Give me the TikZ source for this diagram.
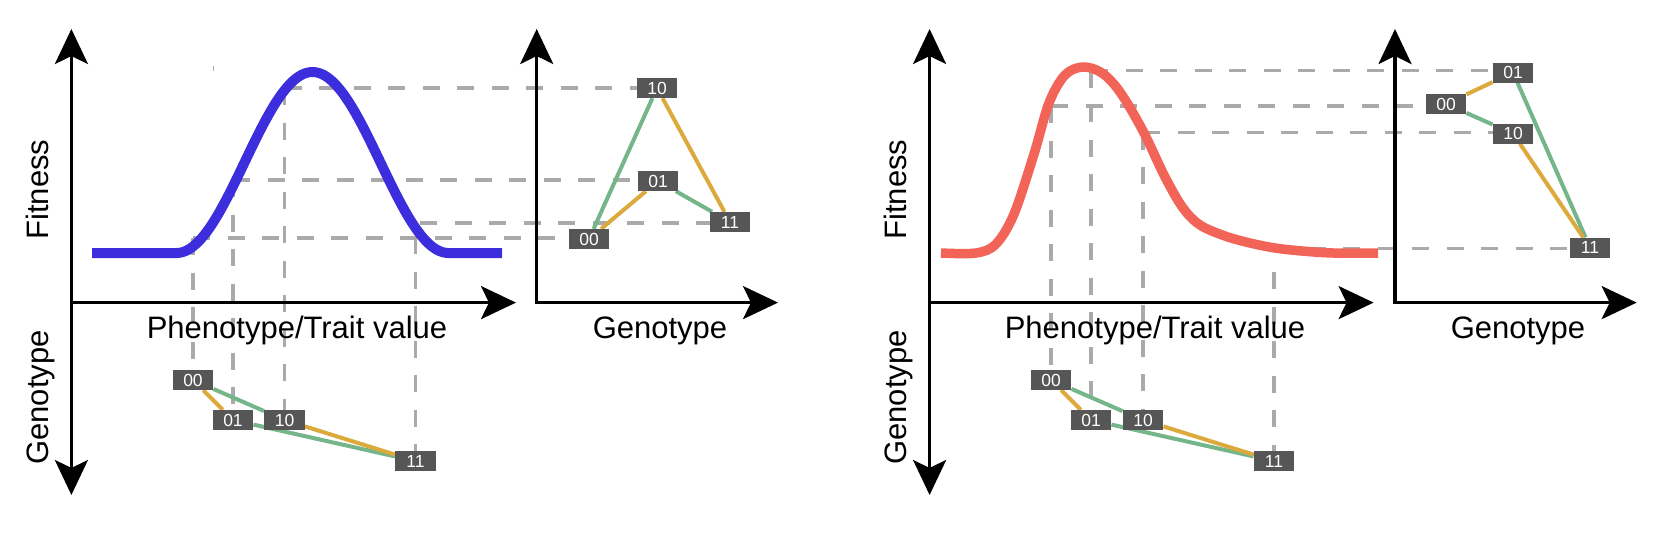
\documentclass[tikz,border=0pt]{standalone}
\usepackage{fontspec}
\setmainfont{Liberation Sans}
\usetikzlibrary{arrows.meta}
\definecolor{bluec}{RGB}{60,46,220}
\definecolor{redc}{RGB}{242,100,88}
\definecolor{orangec}{RGB}{220,170,60}
\definecolor{greenc}{RGB}{116,182,138}
\definecolor{dashc}{RGB}{170,170,170}
\definecolor{nodec}{RGB}{86,86,86}
\pgfdeclarelayer{guides}
\pgfdeclarelayer{curves}
\pgfsetlayers{guides,curves,main}
\begin{document}
\begin{tikzpicture}[x=1pt,y=-1pt,
  >={Stealth[length=35pt,width=33pt,inset=8pt]},
  axisline/.style={line width=3.3pt},
  guide/.style={draw=dashc, line width=3.5pt, dash pattern=on 17pt off 17.5pt},
  geno/.style={rectangle, fill=nodec, text=white, minimum width=40.5pt, minimum height=20pt, inner sep=0pt, font=\fontsize{17.5}{19}\selectfont},
  oedge/.style={draw=orangec, line width=4pt},
  gedge/.style={draw=greenc, line width=4pt},
  lab/.style={font=\fontsize{31}{36}\selectfont, inner sep=0pt, anchor=base},
  vlab/.style={lab, rotate=90}]
\useasboundingbox (0,0) rectangle (1660,536);

% ================= LEFT FIGURE =================
\coordinate (LAt) at (71.4,29);
\coordinate (LAb) at (71.4,495);
\coordinate (LAo) at (71.4,302.6);
\coordinate (LAr) at (516,302.6);
\draw[axisline,<->] (LAt) -- (LAb);
\draw[axisline,->] (LAo) -- (LAr);
\coordinate (LSt) at (536.7,29);
\coordinate (LSo) at (536.7,302.6);
\coordinate (LSr) at (778,302.6);
\draw[axisline,<->] (LSt) -- (LSo) -- (LSr);

\node[vlab] (LFit) at (48,189.5) {Fitness};
\node[vlab] (LGenY) at (48,397.5) {Genotype};
\node[lab] (LPhen) at (297,338.5) {Phenotype/Trait value};
\node[lab] (LGenX) at (660,338.5) {Genotype};

\node[geno] (LB00) at (193,380) {00};
\node[geno] (LB01) at (233,420) {01};
\node[geno] (LB10) at (284.5,420) {10};
\node[geno] (LB11) at (415.5,461) {11};

\node[geno] (LR00) at (589,239) {00};
\node[geno] (LR01) at (658,181) {01};
\node[geno] (LR10) at (657,88) {10};
\node[geno] (LR11) at (730,222) {11};

\begin{pgfonlayer}{guides}
\coordinate (Lg10) at (284.5,88);
\coordinate (Lg01) at (233,180);
\coordinate (Lg00) at (193,238);
\coordinate (Lg11h) at (420,223);
\coordinate (Lg11v) at (415.5,237);
\draw[guide] (Lg10) -- (LR10.west);
\draw[guide] (Lg10) -- (LB10.north);
\draw[guide] (Lg01) -- (LR01.west |- Lg01);
\draw[guide] (Lg01) -- (LB01.north);
\draw[guide] (Lg00) -- (LR00.west |- Lg00);
\draw[guide] (Lg00) -- (LB00.north);
\draw[guide] (Lg11h) -- (LR11.west |- Lg11h);
\draw[guide] (Lg11v) -- (LB11.north);
\draw[draw=dashc, line width=1.6pt] (213.3,66) -- (213.3,70.7);
\end{pgfonlayer}

\begin{pgfonlayer}{curves}
\draw[line width=10pt, draw=bluec, line join=round] (92,253) -- plot[domain=176.5:448.5, samples=120] (\x,{253-90.5*(1+cos(1.3235*(\x-312.5)))}) -- (502,253);
\draw[oedge] (LB00) -- (LB01);
\draw[gedge] (LB00) -- (LB10);
\draw[gedge] (LB01) -- (LB11);
\draw[oedge] (LB10) -- (LB11);
\draw[gedge] (LR00) -- (LR10);
\draw[oedge] (LR00) -- (LR01);
\draw[oedge] (LR10) -- (LR11);
\draw[gedge] (LR01) -- (LR11);
\end{pgfonlayer}

% ================= RIGHT FIGURE =================
\coordinate (RAt) at (929.6,29);
\coordinate (RAb) at (929.6,495);
\coordinate (RAo) at (929.6,302.6);
\coordinate (RAr) at (1373.6,302.6);
\draw[axisline,<->] (RAt) -- (RAb);
\draw[axisline,->] (RAo) -- (RAr);
\coordinate (RSt) at (1395,29);
\coordinate (RSo) at (1395,302.6);
\coordinate (RSr) at (1636.7,302.6);
\draw[axisline,<->] (RSt) -- (RSo) -- (RSr);

\node[vlab] (RFit) at (906,189.5) {Fitness};
\node[vlab] (RGenY) at (906,397.5) {Genotype};
\node[lab] (RPhen) at (1155,338.5) {Phenotype/Trait value};
\node[lab] (RGenX) at (1518,338.5) {Genotype};

\node[geno] (RB00) at (1051,380) {00};
\node[geno] (RB01) at (1091,420) {01};
\node[geno] (RB10) at (1143,420) {10};
\node[geno] (RB11) at (1274,461) {11};

\node[geno] (RR00) at (1446,104) {00};
\node[geno] (RR01) at (1513,72.5) {01};
\node[geno] (RR10) at (1513,133.5) {10};
\node[geno] (RR11) at (1590,247.5) {11};

\begin{pgfonlayer}{guides}
\coordinate (Rg01) at (1091,70.5);
\coordinate (Rg00) at (1051,106);
\coordinate (Rg10) at (1143,132.5);
\coordinate (Rg11h) at (1274,248.3);
\coordinate (Rg11v) at (1274,272);
\draw[guide] (Rg01) -- (RR01.west |- Rg01);
\draw[guide] (Rg01) -- (RB01.north);
\draw[guide] (Rg00) -- (RR00.west |- Rg00);
\draw[guide] (Rg00) -- (RB00.north);
\draw[guide] (Rg10) -- (RR10.west |- Rg10);
\draw[guide] (Rg10) -- (RB10.north);
\draw[guide] (Rg11h) -- (RR11.west |- Rg11h);
\draw[guide] (Rg11v) -- (RB11.north);
\end{pgfonlayer}

\begin{pgfonlayer}{curves}
\draw[line width=9.5pt, draw=redc, line join=round] plot[smooth, tension=0.55] coordinates {(941,253) (976,253) (996,244) (1014,214) (1034,154) (1049,103) (1065,75) (1083,67) (1102,73) (1120,92) (1143,131) (1165,177) (1183,208) (1200,225) (1225,236) (1250,243) (1275,248) (1302,251) (1333,253) (1378,253)};
\draw[oedge] (RB00) -- (RB01);
\draw[gedge] (RB00) -- (RB10);
\draw[gedge] (RB01) -- (RB11);
\draw[oedge] (RB10) -- (RB11);
\draw[oedge] (RR00) -- (RR01);
\draw[gedge] (RR00) -- (RR10);
\draw[gedge] (RR01) -- (RR11);
\draw[oedge] (RR10) -- (RR11);
\end{pgfonlayer}
\end{tikzpicture}
\end{document}
